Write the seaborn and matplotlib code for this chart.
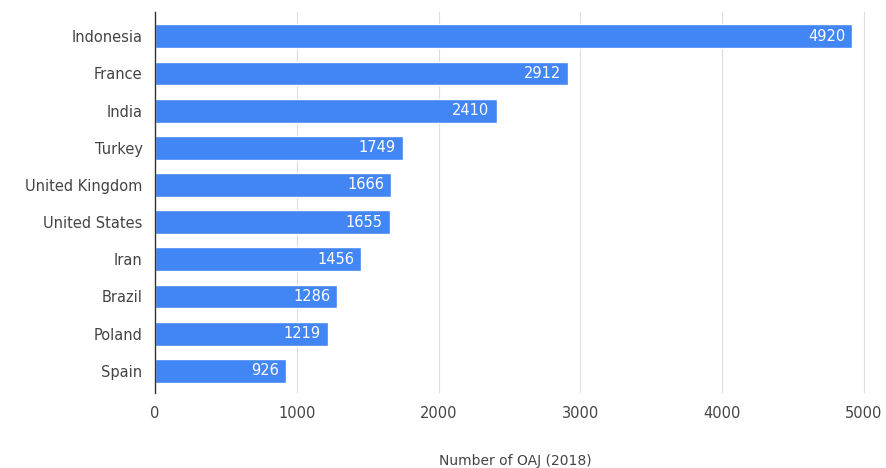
import matplotlib
matplotlib.use("Agg")
import matplotlib.pyplot as plt
import seaborn as sns
import pandas as pd

countries = ["Indonesia", "France", "India", "Turkey", "United Kingdom",
             "United States", "Iran", "Brazil", "Poland", "Spain"]
values = [4920, 2912, 2410, 1749, 1666, 1655, 1456, 1286, 1219, 926]
xticks = [0, 1000, 2000, 3000, 4000, 5000]
xlabel = "Number of OAJ (2018)"

df = pd.DataFrame({"country": countries, "value": values})

sns.set_style("white")
plt.rcParams['font.family'] = ['DejaVu Sans']

fig = plt.figure(figsize=(8.86, 4.68), dpi=100)
ax = fig.add_axes([0.175, 0.16, 0.8126, 0.814])

sns.barplot(data=df, x="value", y="country", color="#4285F4", saturation=1,
            width=0.64, ax=ax, orient="h", zorder=3)

for i, v in enumerate(values):
    ax.text(v - 50, i, str(v), color="white", ha="right", va="center",
            fontsize=10.5, zorder=4)

ax.set_xlim(0, 5080)
ax.set_ylim(9.6, -0.65)
ax.set_xticks(xticks)
ax.set_xticklabels([str(t) for t in xticks])
ax.grid(axis="x", color="#dddddd", linewidth=0.8, zorder=0)
for s in ["top", "right", "bottom"]:
    ax.spines[s].set_visible(False)
ax.spines["left"].set_color("#333333")
ax.spines["left"].set_linewidth(1)
ax.spines["left"].set_zorder(5)
ax.tick_params(axis="both", length=0, labelsize=10.5, colors="#444444")
ax.tick_params(axis="x", pad=9)
ax.tick_params(axis="y", pad=9)
ax.set_ylabel("")
ax.set_xlabel(xlabel, fontsize=10, color="#444444", labelpad=24)

fig.savefig("out.png", dpi=100, facecolor="white")
